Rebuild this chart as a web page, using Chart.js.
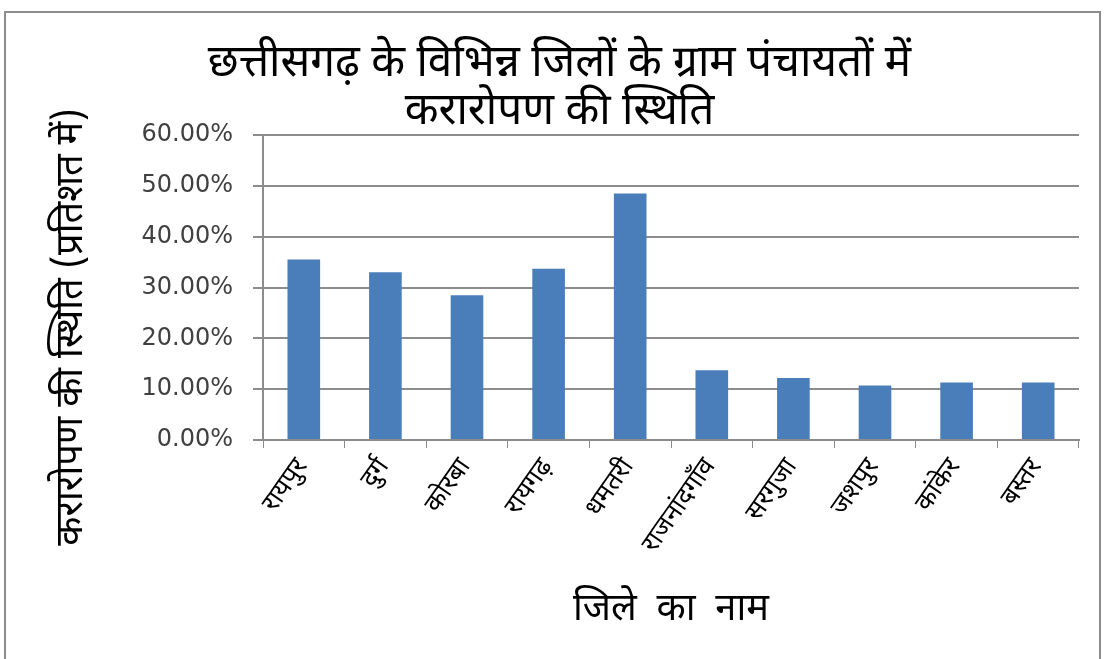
<!DOCTYPE html>
<html>
<head>
<meta charset="utf-8">
<script src="https://cdn.jsdelivr.net/npm/chart.js@4/dist/chart.umd.min.js"></script>
<style>
  html, body { margin: 0; padding: 0; background: #fff; }
  #wrap { width: 1104px; height: 659px; position: relative; }
</style>
</head>
<body>
<div id="wrap"><canvas id="chart"></canvas></div>
<script>
// जिलेवार करारोपण (प्रतिशत में)
const districts = ['रायपुर', 'दुर्ग', 'कोरबा', 'रायगढ़', 'धमतरी', 'राजनांदगाँव', 'सरगुजा', 'जशपुर', 'कांकेर', 'बस्तर'];
const taxPercent = [35.5, 33.0, 28.5, 33.7, 48.5, 13.7, 12.2, 10.7, 11.3, 11.3];
const yTicks = [0, 10, 20, 30, 40, 50, 60];

const titleLines = ['छत्तीसगढ़ के विभिन्न जिलों के ग्राम पंचायतों में', 'करारोपण की स्थिति'];
const xTitle = 'जिले  का  नाम';
const yTitle = 'करारोपण की स्थिति (प्रतिशत में)';

const hindiFont = "'Noto Sans Devanagari', 'Noto Sans', 'Lohit Devanagari', sans-serif";

// outer frame + rotated y title
const framePlugin = {
  id: 'frame',
  beforeDraw(chart) {
    const ctx = chart.ctx;
    ctx.save();
    ctx.fillStyle = '#fff';
    ctx.fillRect(0, 0, chart.width, chart.height);
    ctx.strokeStyle = '#8c8c8c';
    ctx.lineWidth = 2;
    ctx.strokeRect(5, 12, chart.width - 9, chart.height + 10);
    ctx.restore();
  },
  afterDraw(chart) {
    const ctx = chart.ctx;
    ctx.save();
    ctx.translate(75, 327);
    ctx.rotate(-Math.PI / 2);
    ctx.fillStyle = '#000';
    ctx.font = '38px ' + hindiFont;
    ctx.textAlign = 'center';
    ctx.textBaseline = 'middle';
    ctx.fillText(yTitle, 0, 0);
    ctx.restore();
  }
};

new Chart(document.getElementById('chart'), {
  type: 'bar',
  data: {
    labels: districts,
    datasets: [{
      data: taxPercent,
      backgroundColor: '#4a7ebb',
      borderWidth: 0,
      barPercentage: 0.4,
      categoryPercentage: 1.0
    }]
  },
  options: {
    responsive: true,
    maintainAspectRatio: false,
    animation: false,
    layout: { padding: { left: 40, right: 25, top: 0, bottom: 20 } },
    plugins: {
      legend: { display: false },
      tooltip: { enabled: false },
      title: {
        display: true,
        text: titleLines,
        color: '#000',
        font: { family: hindiFont, size: 44, weight: 'normal', lineHeight: 1.08 },
        padding: { top: 44, bottom: -4 }
      }
    },
    scales: {
      x: {
        afterFit(scale) {
          scale.height = 199;
        },
        grid: { display: true, drawOnChartArea: false, color: '#8c8c8c', tickLength: 8, offset: true },
        border: { color: '#8c8c8c', width: 2 },
        ticks: {
          color: '#000',
          minRotation: 55,
          maxRotation: 55,
          padding: 6,
          font: { family: hindiFont, size: 26 }
        },
        title: {
          display: true,
          text: xTitle,
          color: '#000',
          font: { family: hindiFont, size: 38 },
          padding: { top: 4, bottom: 3 }
        }
      },
      y: {
        min: 0,
        max: 60,
        afterBuildTicks(scale) {
          scale.ticks = yTicks.map(v => ({ value: v }));
        },
        afterFit(scale) {
          scale.width = 223;
        },
        grid: { color: '#8c8c8c', lineWidth: 2, tickLength: 10 },
        border: { color: '#8c8c8c', width: 2 },
        ticks: {
          color: '#404040',
          padding: 20,
          font: { family: 'DejaVu Sans', size: 24 },
          callback: v => v.toFixed(2) + '%'
        }
      }
    }
  },
  plugins: [framePlugin]
});
</script>
</body>
</html>
